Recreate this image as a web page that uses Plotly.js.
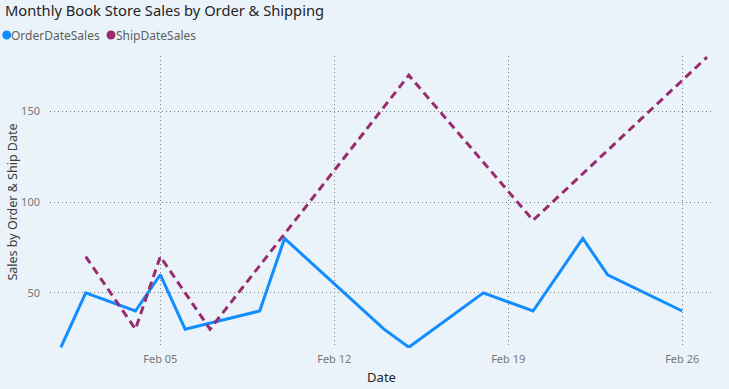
<!DOCTYPE html>
<html>
<head>
<meta charset="utf-8">
<script src="https://cdn.plot.ly/plotly-3.0.1.min.js"></script>
<style>html,body{margin:0;padding:0;background:#EBF3FA;}#chart{width:729px;height:389px;}</style>
</head>
<body>
<div id="chart"></div>
<script>
const orderDates = ['2023-02-01','2023-02-02','2023-02-04','2023-02-05','2023-02-06','2023-02-09','2023-02-10','2023-02-14','2023-02-15','2023-02-18','2023-02-20','2023-02-22','2023-02-23','2023-02-26'];
const orderSales = [20,50,40,60,30,40,80,30,20,50,40,80,60,40];
const shipDates = ['2023-02-02','2023-02-04','2023-02-05','2023-02-07','2023-02-15','2023-02-20','2023-02-27'];
const shipSales = [70,30,70,30,170,90,180];
const seriesNames = ['OrderDateSales','ShipDateSales'];
const xTicks = ['2023-02-05','2023-02-12','2023-02-19','2023-02-26'];
const xTickText = ['Feb 05','Feb 12','Feb 19','Feb 26'];
const yTicks = [50,100,150];

const blue = '#118DFF', purple = '#962D6E';
const FONT = 'Segoe UI, Noto Sans, Open Sans, sans-serif';

// plot area in px: x 50..713, y 56..348
const L = 50, R = 713, T = 56, B = 348;
const px = x => (x - L) / (R - L);
const py = y => (B - y) / (B - T);

const traces = [
  {x: orderDates, y: orderSales, name: seriesNames[0], type: 'scatter', mode: 'lines',
   line: {color: blue, width: 3}, showlegend: false, hoverinfo: 'x+y'},
  {x: shipDates, y: shipSales, name: seriesNames[1], type: 'scatter', mode: 'lines',
   line: {color: purple, width: 3, dash: '8px,5px'}, showlegend: false, hoverinfo: 'x+y'}
];

const layout = {
  width: 729, height: 389,
  paper_bgcolor: '#EBF3FA', plot_bgcolor: '#EBF3FA',
  margin: {l: L, r: 729 - R, t: T, b: 389 - B, pad: 0},
  font: {family: FONT, color: '#605E5C'},
  title: {text: 'Monthly Book Store Sales by Order & Shipping', xref: 'container', yref: 'container',
          x: 5/729, xanchor: 'left', y: 1 - 11/389, yanchor: 'middle',
          font: {family: FONT, size: 14.7, color: '#252423'}},
  showlegend: false,
  xaxis: {
    type: 'date', range: ['2023-01-31 13:30', '2023-02-27 05:45'],
    tickmode: 'array', tickvals: xTicks, ticktext: xTickText,
    showgrid: true, gridcolor: '#808080', gridwidth: 1, griddash: '1px,3px',
    zeroline: false, showline: false, ticks: '', ticklabelstandoff: 3,
    tickfont: {size: 11, color: '#777777'},
    title: {text: 'Date', font: {size: 13, color: '#252423'}, standoff: 7},
    automargin: false, fixedrange: true
  },
  yaxis: {
    range: [19.6, 180.6], tickmode: 'array', tickvals: yTicks,
    showgrid: true, gridcolor: '#808080', gridwidth: 1, griddash: '1px,3px',
    zeroline: false, showline: false, ticks: '', ticklabelstandoff: 9,
    tickfont: {size: 11, color: '#777777'},
    title: {text: 'Sales by Order & Ship Date', font: {size: 12.5, color: '#404040'}, standoff: 0},
    automargin: false, fixedrange: true
  },
  shapes: [
    {type: 'circle', xref: 'paper', yref: 'paper', xsizemode: 'pixel', ysizemode: 'pixel',
     xanchor: px(6.7), yanchor: py(35), x0: -4.5, x1: 4.5, y0: -4.5, y1: 4.5,
     fillcolor: blue, line: {width: 0}},
    {type: 'circle', xref: 'paper', yref: 'paper', xsizemode: 'pixel', ysizemode: 'pixel',
     xanchor: px(111), yanchor: py(35), x0: -4.5, x1: 4.5, y0: -4.5, y1: 4.5,
     fillcolor: purple, line: {width: 0}}
  ],
  annotations: [
    {text: seriesNames[0], xref: 'paper', yref: 'paper', x: px(10), y: py(35), xanchor: 'left', yanchor: 'middle',
     showarrow: false, borderpad: 0, font: {size: 12, color: '#605E5C'}},
    {text: seriesNames[1], xref: 'paper', yref: 'paper', x: px(115), y: py(35), xanchor: 'left', yanchor: 'middle',
     showarrow: false, borderpad: 0, font: {size: 12, color: '#605E5C'}}
  ]
};

Plotly.newPlot('chart', traces, layout, {displayModeBar: false, staticPlot: true});
</script>
</body>
</html>
